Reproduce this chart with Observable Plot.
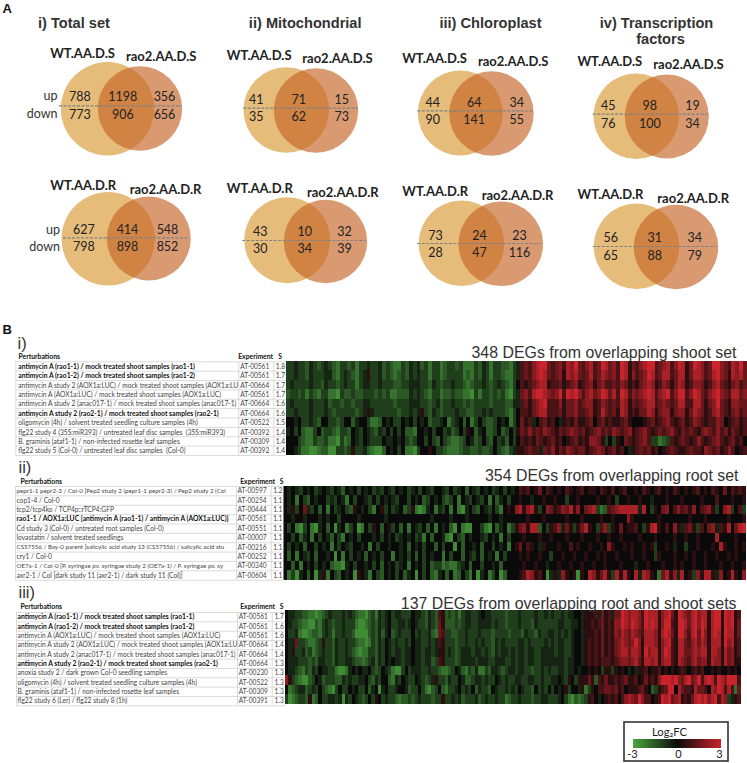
<!DOCTYPE html>
<html><head><meta charset="utf-8">
<script src="https://cdn.jsdelivr.net/npm/d3@7"></script>
<script src="https://cdn.jsdelivr.net/npm/@observablehq/plot@0.6"></script>
<style>html,body{margin:0;background:#fff}svg{display:block}</style>
</head><body><div id="chart"></div>
<script>
// ---------- DATA ----------
const vennUp = [[788,1198,356],[41,71,15],[44,64,34],[45,98,19],[627,414,548],[43,10,32],[73,24,23],[56,31,34]];
const vennDown = [[773,906,656],[35,62,73],[90,141,55],[76,100,34],[798,898,852],[30,34,39],[28,47,116],[65,88,79]];
const vennNames = [["WT.AA.D.S","rao2.AA.D.S"],["WT.AA.D.R","rao2.AA.D.R"]];
const setTitles = ["i) Total set","ii) Mitochondrial","iii) Chloroplast","iv) Transcription","factors"];

const expI = ["AT-00561","AT-00561","AT-00664","AT-00561","AT-00664","AT-00664","AT-00522","AT-00392","AT-00309","AT-00392"];
const sI = ["1.8","1.7","1.7","1.7","1.6","1.6","1.5","1.4","1.4","1.4"];
const boldI = [1,1,0,0,0,1,0,0,0,0];
const pertI = ["antimycin A (rao1-1) / mock treated shoot samples (rao1-1)","antimycin A (rao1-2) / mock treated shoot samples (rao1-2)","antimycin A study 2 (AOX1a:LUC) / mock treated shoot samples (AOX1a:LU","antimycin A (AOX1a:LUC) / mock treated shoot samples (AOX1a:LUC)","antimycin A study 2 (anac017-1) / mock treated shoot samples (anac017-1)","antimycin A study 2 (rao2-1) / mock treated shoot samples (rao2-1)","oligomycin (4h) / solvent treated seedling culture samples (4h)","flg22 study 4 (35S:miR393) / untreated leaf disc samples  (35S:miR393)","B. graminis (ataf1-1) / non-infected rosette leaf samples","flg22 study 5 (Col-0) / untreated leaf disc samples  (Col-0)"];

const expII = ["AT-00597","AT-00254","AT-00444","AT-00561","AT-00551","AT-00007","AT-00216","AT-00252","AT-00340","AT-00604"];
const sII = ["1.2","1.1","1.1","1.1","1.1","1.1","1.1","1.1","1.1","1.1"];
const boldII = [0,0,0,1,0,0,0,0,0,0];
const pertII = ["pepr1-1 pepr2-3 / Col-0 [Pep2 study 2 (pepr1-1 pepr2-3) / Pep2 study 2 (Col","cop1-4 / Col-0","tcp2/tcp4ko / TCP4p::rTCP4:GFP","rao1-1 / AOX1a:LUC [antimycin A (rao1-1) / antimycin A (AOX1a:LUC)]","Cd study 3 (Col-0) / untreated root samples (Col-0)","lovastatin / solvent treated seedlings","CS57556 / Bay-0 parent [salicylic acid study 13 (CS57556) / salicylic acid stu","cry1 / Col-0","OE7a-1 / Col-0 [P. syringae pv. syringae study 2 (OE7a-1) / P. syringae pv. sy","axr2-1 / Col [dark study 11 (axr2-1) / dark study 11 (Col)]"];

const expIII = ["AT-00561","AT-00561","AT-00561","AT-00664","AT-00664","AT-00664","AT-00230","AT-00522","AT-00309","AT-00391"];
const sIII = ["1.7","1.6","1.6","1.4","1.4","1.3","1.3","1.3","1.3","1.3"];
const boldIII = [1,1,0,0,0,1,0,0,0,0];
const pertIII = ["antimycin A (rao1-1) / mock treated shoot samples (rao1-1)","antimycin A (rao1-2) / mock treated shoot samples (rao1-2)","antimycin A (AOX1a:LUC) / mock treated shoot samples (AOX1a:LUC)","antimycin A study 2 (AOX1a:LUC) / mock treated shoot samples (AOX1a:LU","antimycin A study 2 (anac017-1) / mock treated shoot samples (anac017-1)","antimycin A study 2 (rao2-1) / mock treated shoot samples (rao2-1)","anoxia study 2 / dark grown Col-0 seedling samples","oligomycin (4h) / solvent treated seedling culture samples (4h)","B. graminis (ataf1-1) / non-infected rosette leaf samples","flg22 study 6 (Ler) / flg22 study 8 (1h)"];

const degTitles = ["348 DEGs from overlapping shoot set","354 DEGs from overlapping root set","137 DEGs from overlapping root and shoot sets"];

// Log2FC: 0 = 0, a..f = -0.5..-3, A..F = +0.5..+3
const heatI = [
"bbabbcabcb abcdbbcbdb babbacbcdd bcabacbdbb dcbbcbdddb cabdbbccdb aBCBDEFFCB CDBEDFCBDE BCFECDBFEA CBDEFFBCDE BDFEACFEDB CFFDCBEDFC",
"bbabbcabbb aacdbabcdb aAbbacbcdc bcababbdbb dcbbbbdcdb cabdbbcddb aBCBDEFECB CDAEDECBCE BCEDCDBFEA DBCDFEBCEE BCEEACEEDB CEFDCAEDEC",
"babbbbabbc abbcbabbdb aabbabbbcc bbaaabbcab cbbabbcdcb babcbabcdb 0BABCDEEAB BCABCDABCD ACDBBCBDCA BACDEDABDC ACEDABDDCA BDECBACDBC",
"cbbcbdbcdb bddebccbcc bbbcbcbddc ccababcdbb dccbccddeb dbbcbcbdeb aCDBEFFEDC DFBFEFDBDE CDFECEBFEB DCDEFEBDEF BDFFBDFECB DEFDCBEECD",
"babbbbabbb acbbcbbcbb aabbbbbbcb bbaaabbcba cbbabbcbcb bbbcbbbcca aBCACDEFBB BDACCDBCDD ABDCBCBEDA CBCDEEBCDC BCEEBBEECA CDFCBADDCC",
"bbabbbabbb abcbbbbbcb aAabbbbbbc bbabaAbcab cbbbabbccb bababbbcdb 0BBACDEEBB BCACCDBBCD ABECBCAEDA BACCEDACDD ACDDACEDCA BDECBACDBC",
"00a0bbabc0 0bbcb00ca0 0bddc0a0bb 0a0b0a0cbb a0dba0c0db 0bccb0a0db 0CABa0BCAB 0aABACAABC 0BCABAABCA 000ABCABCD BABCABDCBA BBDC0ABCAB",
"a0b0cddb0c bbcdbbc0ab 0abcab0b0b 0ccd00a0b0 0bacb0bA0c a0ccb0cb0b ACBDBCBDCB ACBCDCBCAB CDBCBDCBCD ABCDBABCBC DBACBCBACD CBDBCACBAB",
"000bcddbcc bddebdc0ab 0abbb0aa0a 0bcb00b0bc 0bcddcb0ac b0bc0bac0b 0BABACBABC AB0ABCABAD DCAb0bA0CB ABCDBbbdcb BABCBABDBA BCDBABCAB0",
"00abddeedc ceebbcbAbb acdeec0a0b 0ddeb00A0b bcdddcbbcc bccb0bcdba AABCBBaCBD ACBDCBCCAB CDCABCAB0a ABCBCAB0AB CBAABCBBAD CBCABDB0AB"];

const heatII = [
"0a0ab0a0ba 0ab0ac0a0b 0a0bab0ab0 a0ba0b0ab0 0ab0ba0c0a b0a0ba0b0a 0BAB0AC0BA 0A0BA0AB0A A0BA0B0AB0 0A0BA0AB0A 0BA0A0AB0A 0BA0C0BABA",
"0a0d0bc0a0 0bab0ad0b0 0ab0b0a0ab 00b0a0cb0a 0bcb0d0ab0 ab0d0ca0b0 0A00a00A00 A00b00A000 0A00A0b00A 00A00a000A 000A0000A0 00B000A00A",
"0aAb0Cab0c 0d0ba0bcA0 a0bd0Ab0ba 0cbAdeda0d ab0d0dea0b c0ab0bd0A0 DEADEAb0DC ABDCEAD0CD EbdcBCDEEE EEaE0bA0CD 0BDBCAD0BC DAb0DEb0Bb",
"00a00a000a 0a00b0000a 000000a000 00000000a0 000a000a00 000a00a000 000A000A00 000A000A00 00A00A000D A000000A00 00000A000A 00000A000A",
"0b0deb0dea 0c0ea0db0e d0bA0c0Ab0 c0d0ab0c0d 0a0ce0dee0 0bde0ca0db ACDAEEc0bA BDaCAbACEA 0bBDbA0C0A AB0bAEFA0B 0DAaBCAbB0 CDaBAE0CEF",
"00b0ca0d0b 0ac0bd0a0b 000a0b0a0b a0a0bad0c0 0ade0bc0a0 0ab0a0d0b0 00A000A00A 000A000A00 0A00A00A00 00A000A000 0A00A00A00 00E0000A00",
"0b0a0c00b0 a0d0b0ab00 a0d0b00a00 a0c0a0b00c 0b00e0c00a 0c00b0a0d0 AC0BA0aA00 0A00B0A00A 00A0DA00A0 A00A0Ab00A 0a00b00A00 0A0EA00A0A",
"0c0d0ab0c0 0a0e0d0b0a 0c0a0b00d0 a0b0c0b0a0 0d0b00c0ab 0c0a0d0b00 0A0A00A00b 00A00A00A0 0A0A00A000 A00A00bA00 0A00A0A00A 00A00A0A00",
"00c0d0a0b0 a0cddea0b0 0a0b0c0a0b a0d0a0b0cb bdcddba0c0 0b00a0c000 00A00A00a0 0A00A00A00 A00A000A00 0a00A000A0 0A0A00A00A 000A00A00A",
"0dbea0c0ea Ad0bc0a0eA 0ad0bc0a0b 0ca0e0b0cd a0c0dc0bd0 ea0db0ec00 0ABEDAB0ea AaDA0AeA0E DACEAbEAEA 0EaEDA0dCE ADaE0AbDAE EAaD0AEA0D"];

const heatIII = [
"0aabbccdde dcbabbbaba bcddecbdab a0baabbb0a abcabcBAcb cbdbaabba0 aabbbbcbbb abbbbabbab abbabaa00a AAABaCABaC CFEDEEDBFE EEADEFCAFE DCEFDEEAEF FAFEFAB",
"0abbcddeec dbabcbbabb bdeedcbcab a0bbaaba0a bbcabcCAcc cbcbaabbaa aababbcbbb abbbcabbbb bbaabbaa0a AABABCABAD DFEDFEDBFE FEADFFBAFF ECEFDFEAEF FAFEFAC",
"0bbadeedcc dbabdbbabb ceeeecbcac a0cbabbb0b abbacdCBbb ccbbabbbab bbcbbbbcbb bcabbcabba abababa00a AAABACABAD CEDCEDCBEE EDAEFECAFF DBEFCFDAEF EAFEEAC",
"0aaCbbcddc bAbbcabbab bcddedbcab 0ababbab0a abbabaBAbb bcbbabbaba bbcababbbb aababbbbab abaabba00a ABABACABAC DEDCDFDAEE EDADEFBAEE CBDECEDAEE EAFDEAB",
"0aAbbacbdc babbcabbab cdeddbbcab 0abaabaa0a abaabaAAba bcbaaabaab abcabaabab aabaabbaaa abaabba00a ABABACABAC DEECEEDAFD EEADFEBAEE CCDEDEEAEE DAECDAB",
"0aaabbbcbc aabbcabbaa bccdcbacab 0a0aabaa0a abaacbBAbb bcbaaaabaa abbaaabbab aabaabbaaa aaaabaa00a ABABABBBAB CDDCDECAEE DEADEEBAED CBDECDDAED DAECDAA",
"0aabcdbcab 0aabbdeeda 0a0aa0bcb0 abdeeb0baa abbabbcddc b0acdbcadd bcaabcbaab aabbcbbaba bbaabaa0a0 0A0A0bAAbA 0A0a0aAAB0 AAB0A0A0AB A0ABAB00A0 A00A0A0",
"DAbcdeecb0 acbbbccaba bbaa0bcab0 0cdab0abb0 abcbaAbbca bb0accbaab abb0ababba abbaabbabb aa0abA0bAA ACAcBACAAB ABCAAB0ACA BADFFFEFDC EFCDFBEFEB FEDFFFB",
"0dcbaacbab 0bcdeb0bb0 a0bb0ca0ea 0bba00acbb 0bdecb0cdb ba0bab0cab bc0abbabab 0abbc0bab0 b0a0Ab00aA dbA0BBCCBC AB0AAABCA0 cbABCFF0EC BBAECCB0ED FEBEBdC",
"bedcbbcAdc 0bbaabaeab 0abcb0bA0b abbcdccbcb abbbcbbAbb abacbbbacb abbabbdcbb abbbcbbaab bba0bdecdc bAB0a0ABAB 0BDEDCFDBB 0ABFEFCDEA BACEFEFDEF BEDbaAB"];

const legendTicks = [-3,0,3];

// ---------- LAYOUT (page units) ----------
const vennLayout = [
 {a:[107,108.3,46.7],b:[139.5,108,42.2],dash:[105.3,59,182],xs:[79.3,122.3,164],up:96.7,down:114.3,wt:[82,53],rao:[160.7,56]},
 {a:[285.8,109.5,42.8],b:[315.5,110,42.2],dash:[107.7,243.3,357.7],xs:[255.7,298.3,341.3],up:99.3,down:116.7,wt:[258.7,55],rao:[337,58]},
 {a:[459.8,112.5,42.5],b:[491,113,42.2],dash:[110.3,417.3,533.3],xs:[432.3,473.7,516.3],up:102.3,down:119.7,wt:[434,58.3],rao:[512.7,61.3]},
 {a:[635.7,115.7,42.7],b:[666.3,116,42],dash:[113.7,592.7,709.3],xs:[607.7,649.3,692],up:105.3,down:123,wt:[609.3,61.7],rao:[688,64.3]},
 {a:[107.7,238.3,46.7],b:[148.3,238,42],dash:[237.3,63,188],xs:[83.3,127,167],up:229.3,down:246.7,wt:[82.7,185.7],rao:[165,189]},
 {a:[286.7,239.7,43],b:[325,241,41.7],dash:[240,242.3,365.7],xs:[259.7,304.3,344],up:231,down:248.7,wt:[259.3,188.3],rao:[342.3,192.3]},
 {a:[461,242.8,42.8],b:[500.3,243.3,42.3],dash:[243,417.3,540.7],xs:[435,479,519],up:235,down:252.3,wt:[434.7,191.7],rao:[517,195.7]},
 {a:[636,245.8,42.8],b:[675.5,246.5,42.2],dash:[246,592.7,715.7],xs:[610.3,654.3,694.3],up:237.7,down:255.3,wt:[610,194.3],rao:[692.7,198]}
];
const titlePos = [[73.5,23],[304.7,23],[490,23.3],[656,22.8],[660,39]];
const tableLayout = [
 {pert:pertI,exp:expI,s:sI,bold:boldI,mark:"i)",markX:17,markY:343,headY:356.5,headX:18,expHeadX:237.7,sHeadX:277.7,y0:366.3,step:9.37,left:15.3,right:285.7,sep1:238.3,sep2:273.3,top:361.3,textX:17.7,expX:239.7,sX:275.3,
  heat:heatI,cols:120,hx:[286,746.7],hy:[361,455],deg:[736,352.7]},
 {pert:pertII,exp:expII,s:sII,bold:boldII,mark:"ii)",markX:18,markY:467,headY:481.3,headX:20,expHeadX:239.7,sHeadX:279.3,y0:490.7,step:9.37,left:15,right:283.7,sep1:236,sep2:270.7,top:486,textX:16,expX:237,sX:272.7,
  heat:heatII,cols:120,hx:[283.5,746],hy:[486,579.5],deg:[738,475.7]},
 {pert:pertIII,exp:expIII,s:sIII,bold:boldIII,mark:"iii)",markX:18,markY:592.5,headY:606.7,headX:20,expHeadX:239.7,sHeadX:279.3,y0:616.7,step:9.33,left:16,right:285,sep1:237,sep2:271.7,top:612,textX:17,expX:238.3,sX:274,
  heat:heatIII,cols:137,hx:[285,740.7],hy:[610,703.5],deg:[736,603.3]}
];
const legendBox = {x1:624,x2:728,y1:722,y2:761,gx:[633,721],gy:[739,748],tickX:[632,678,719],tickY:754,titleX:669,titleY:732};

// ---------- BUILD ----------
const code = c => {
  if (c === "0") return 0;
  const lo = "abcdef".indexOf(c);
  if (lo >= 0) return -(lo + 1) * 0.5;
  return ("ABCDEF".indexOf(c) + 1) * 0.5;
};
const cells = [], blocks = [], hRules = [], vRules = [], plain = [], tight = [], bolds = [], exps = [];
tableLayout.forEach(t => {
  const cw = (t.hx[1] - t.hx[0]) / t.cols, rh = (t.hy[1] - t.hy[0]) / t.heat.length;
  blocks.push({x1:t.hx[0],x2:t.hx[1],y1:t.hy[0],y2:t.hy[1]});
  t.heat.forEach((row, r) => {
    row.replace(/ /g,"").slice(0,t.cols).split("").forEach((c, i) => {
      cells.push({x1:t.hx[0]+i*cw,x2:t.hx[0]+(i+1)*cw,y1:t.hy[0]+r*rh,y2:t.hy[0]+(r+1)*rh,v:code(c)});
    });
  });
  const bottom = t.top + t.step * 10;
  d3.range(11).forEach(i => hRules.push({y:t.top+i*t.step,x1:t.left,x2:t.right}));
  [t.left,t.sep1,t.sep2,t.right].forEach(x => vRules.push({x,y1:t.top,y2:bottom}));
  t.pert.forEach((p,i) => {
    (t.bold[i] ? bolds : p.length > 74 ? tight : plain).push({x:t.textX,y:t.y0+i*t.step,text:p});
    exps.push({x:t.expX,y:t.y0+i*t.step,text:t.exp[i]});
    exps.push({x:t.sX,y:t.y0+i*t.step,text:t.s[i]});
  });
});
const nums = [], names = [];
vennLayout.forEach((v,i) => {
  v.xs.forEach((x,k) => {
    nums.push({x,y:v.up,text:String(vennUp[i][k])});
    nums.push({x,y:v.down,text:String(vennDown[i][k])});
  });
  const n = vennNames[i < 4 ? 0 : 1];
  names.push({x:v.wt[0],y:v.wt[1],text:n[0]});
  names.push({x:v.rao[0],y:v.rao[1],text:n[1]});
});
const sans = "Liberation Sans, Arial, sans-serif", cal = "Lato, Carlito, sans-serif";
const txt = (rows, o) => Plot.text(rows, {x:"x",y:"y",text:"text",lineAnchor:"middle",fontFamily:cal,fill:"#222",...o});
const rampN = 88, ramp = d3.range(rampN).map(i => ({
  x1: legendBox.gx[0] + i*(legendBox.gx[1]-legendBox.gx[0])/rampN,
  x2: legendBox.gx[0] + (i+1)*(legendBox.gx[1]-legendBox.gx[0])/rampN,
  v: -3 + 6*(i+0.5)/rampN
}));

const chart = Plot.plot({
  width:747, height:763, margin:0,
  style:{background:"#fff"},
  x:{axis:null,domain:[0,747],range:[0,747]},
  y:{axis:null,domain:[0,763],range:[0,763]},
  r:{type:"identity"},
  color:{type:"linear",domain:[-3,0,3],range:["#4ba63e","#0a0a0a","#c9242b"],clamp:true},
  marks:[
    // Venn
    Plot.dot(vennLayout,{x:d=>d.a[0],y:d=>d.a[1],r:d=>d.a[2],fill:"#e6bc7a",stroke:"none"}),
    Plot.dot(vennLayout,{x:d=>d.b[0],y:d=>d.b[1],r:d=>d.b[2],fill:"#c56426",fillOpacity:0.65,stroke:"none"}),
    Plot.ruleY(vennLayout,{y:d=>d.dash[0],x1:d=>d.dash[1],x2:d=>d.dash[2],stroke:"#7d8288",strokeWidth:1.2,strokeDasharray:"3 1.5"}),
    txt(nums,{fontSize:12.5,textAnchor:"middle"}),
    txt(names,{fontSize:13,fontWeight:"bold",textAnchor:"middle"}),
    txt([{x:57,y:95.5,text:"up"},{x:57,y:113,text:"down"},{x:59.5,y:229,text:"up"},{x:59.5,y:246,text:"down"}],{fontSize:12.5,textAnchor:"end",fill:"#333"}),
    txt(setTitles.map((t,i)=>({x:titlePos[i][0],y:titlePos[i][1],text:t})),{fontFamily:sans,fontWeight:"bold",fontSize:14.6,textAnchor:"middle",fill:"#333"}),
    txt([{x:2,y:8,text:"A"},{x:2,y:329,text:"B"}],{fontFamily:sans,fontWeight:"bold",fontSize:13,textAnchor:"start",fill:"#111"}),
    // Tables
    Plot.ruleY(hRules,{y:"y",x1:"x1",x2:"x2",stroke:"#d2d2d2",strokeWidth:0.8}),
    Plot.ruleX(vRules,{x:"x",y1:"y1",y2:"y2",stroke:"#d2d2d2",strokeWidth:0.8}),
    txt(tableLayout.map(t=>({x:t.markX,y:t.markY,text:t.mark})),{fontFamily:sans,fontSize:16.5,textAnchor:"start",fill:"#333"}),
    txt(tableLayout.map(t=>({x:t.headX,y:t.headY,text:"Perturbations"})),{fontSize:6.8,fontWeight:"bold",textAnchor:"start",fill:"#111"}),
    txt(tableLayout.map(t=>({x:t.expHeadX,y:t.headY,text:"Experiment"})),{fontSize:6.8,fontWeight:"bold",textAnchor:"start",fill:"#111"}),
    txt(tableLayout.map(t=>({x:t.sHeadX,y:t.headY,text:"S"})),{fontSize:6.8,fontWeight:"bold",textAnchor:"start",fill:"#111"}),
    txt(plain,{fontSize:6.65,textAnchor:"start",fill:"#444"}),
    txt(tight,{fontSize:6.2,textAnchor:"start",fill:"#444"}),
    txt(bolds,{fontSize:6.75,fontWeight:"bold",textAnchor:"start",fill:"#111"}),
    txt(exps,{fontSize:6.6,textAnchor:"start",fill:"#444"}),
    // Heat maps
    Plot.rect(blocks,{x1:"x1",x2:"x2",y1:"y1",y2:"y2",fill:"#0a0a0a"}),
    Plot.rect(cells,{x1:"x1",x2:"x2",y1:"y1",y2:"y2",fill:"v",shapeRendering:"crispEdges"}),
    txt(tableLayout.map((t,i)=>({x:t.deg[0],y:t.deg[1],text:degTitles[i]})),{fontFamily:sans,fontSize:15.9,textAnchor:"end",fill:"#333"}),
    // Legend
    Plot.rect([legendBox],{x1:"x1",x2:"x2",y1:"y1",y2:"y2",fill:"none",stroke:"#333",strokeWidth:1.6}),
    Plot.rect(ramp,{x1:"x1",x2:"x2",y1:()=>legendBox.gy[0],y2:()=>legendBox.gy[1],fill:"v",shapeRendering:"crispEdges"}),
    txt(legendTicks.map((v,i)=>({x:legendBox.tickX[i],y:legendBox.tickY,text:String(v)})),{fontSize:11,textAnchor:"middle",fill:"#222"}),
    txt([{x:legendBox.titleX,y:legendBox.titleY,text:"Log₂FC"}],{fontSize:11.2,textAnchor:"middle",fill:"#222"})
  ]
});
document.getElementById("chart").appendChild(chart);
</script></body></html>
